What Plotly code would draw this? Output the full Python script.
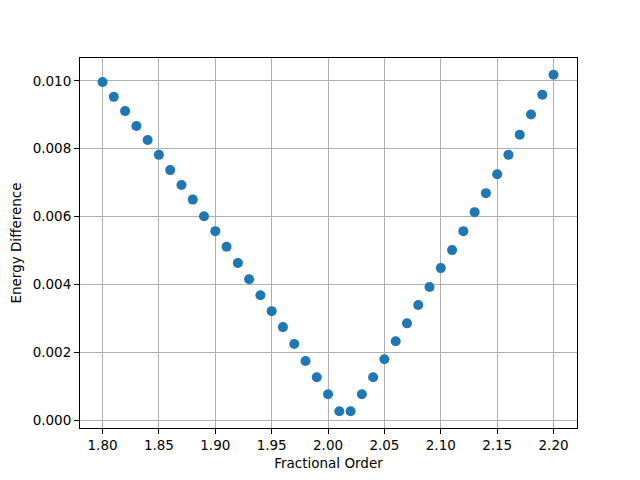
import plotly.graph_objects as go

fractional_order = [round(1.80 + 0.01 * i, 2) for i in range(41)]
energy_difference = [
    0.00997, 0.00953, 0.00911, 0.00867, 0.00826, 0.00782, 0.00737, 0.00693,
    0.00650, 0.00601, 0.00557, 0.00511, 0.00463, 0.00415, 0.00368, 0.00321,
    0.00274, 0.00224, 0.00174, 0.00126, 0.00076, 0.00026, 0.00026, 0.00076,
    0.00126, 0.00179, 0.00232, 0.00285, 0.00339, 0.00392, 0.00448, 0.00501,
    0.00557, 0.00613, 0.00669, 0.00725, 0.00782, 0.00841, 0.00901, 0.00959,
    0.01018,
]

fig = go.Figure(go.Scatter(
    x=fractional_order, y=energy_difference, mode="markers",
    marker=dict(color="#1f77b4", size=10, line=dict(width=0)),
))

axis_common = dict(
    showgrid=True, gridcolor="#b0b0b0", gridwidth=1,
    showline=True, linecolor="black", linewidth=1, mirror=True,
    ticks="outside", ticklen=5, tickcolor="black", tickwidth=1,
    zeroline=False, tickfont=dict(size=13.5, color="black"),
    automargin=False,
)

# page body has an 8px margin, so the figure is shrunk by that amount
fig.update_layout(
    width=632, height=472,
    margin=dict(l=72, r=63, t=50, b=52),
    paper_bgcolor="white", plot_bgcolor="white",
    font=dict(family="DejaVu Sans", color="black"),
    showlegend=False,
    xaxis=dict(range=[1.78, 2.2208], tickvals=[1.80, 1.85, 1.90, 1.95, 2.00, 2.05, 2.10, 2.15, 2.20],
               tickformat=".2f", title=dict(text="Fractional Order", font=dict(size=13.5), standoff=6),
               **axis_common),
    yaxis=dict(range=[-0.000236, 0.010676], tickvals=[0, 0.002, 0.004, 0.006, 0.008, 0.010],
               tickformat=".3f", title=dict(text="Energy Difference", font=dict(size=13.5), standoff=8),
               **axis_common),
)

fig.write_html("out.html")
